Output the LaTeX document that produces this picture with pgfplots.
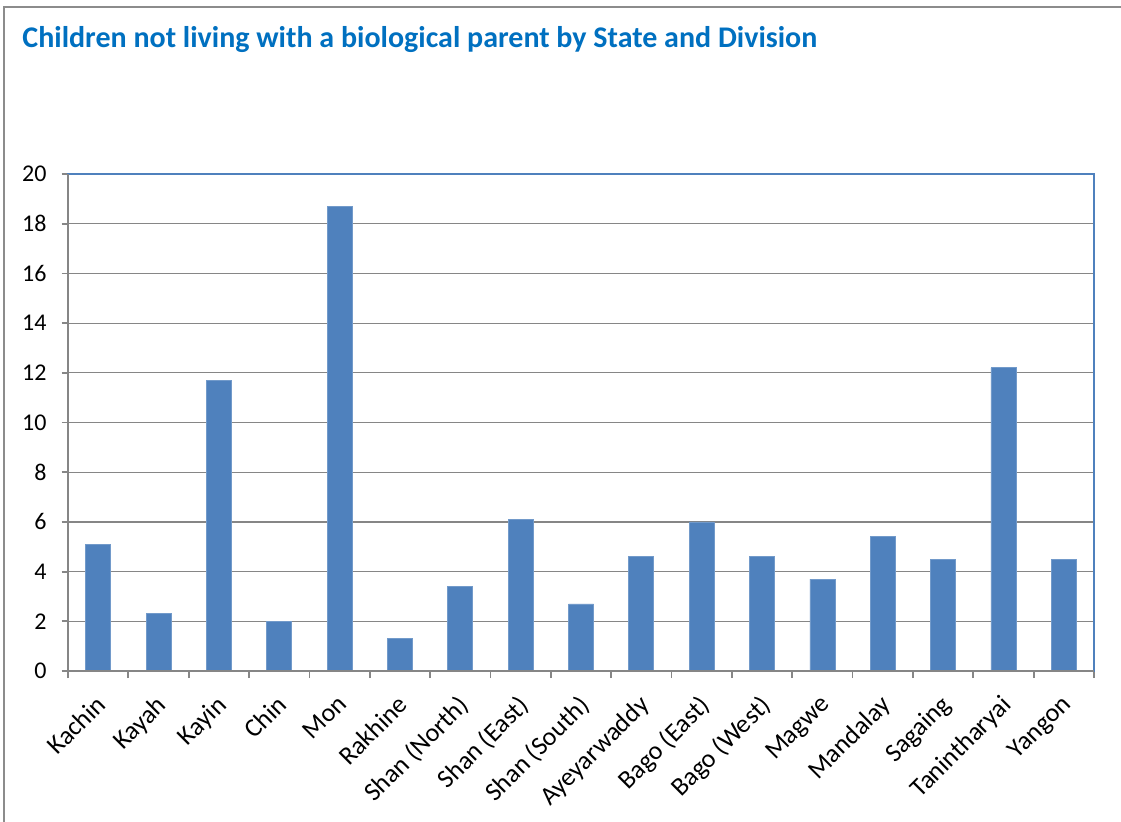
\documentclass[border=0pt]{standalone}
\usepackage{pgfplots}
\pgfplotsset{compat=1.18}
\usepackage{fontspec}
\setmainfont{Carlito}
\definecolor{barblue}{RGB}{79,129,189}
\definecolor{titleblue}{RGB}{0,112,192}
\definecolor{gridgray}{RGB}{134,134,134}
\definecolor{framegray}{RGB}{140,140,140}
\begin{document}
\begin{tikzpicture}
\begin{axis}[
  at={(34pt,75pt)}, anchor=south west,
  scale only axis, width=513pt, height=248.5pt,
  xmin=-0.5, xmax=16.5, ymin=0, ymax=20,
  ytick={0,2,...,20},
  xtick={0,...,16},
  xticklabels={Kachin,Kayah,Kayin,Chin,Mon,Rakhine,Shan (North),Shan (East),Shan (South),Ayeyarwaddy,Bago (East),Bago (West),Magwe,Mandalay,Sagaing,Tanintharyai,Yangon},
  minor xtick={-0.5,0.5,...,16.5},
  xtick pos=bottom, ytick pos=left,
  major x tick style={draw=none},
  minor x tick style={draw=gridgray, line width=0.9pt},
  y tick style={draw=gridgray, line width=0.9pt},
  tick align=outside,
  major tick length=3.2pt, minor tick length=3.5pt,
  ymajorgrids, major grid style={gridgray, line width=0.6pt},
  axis line style={barblue, line width=0.9pt},
  xticklabel style={rotate=45, anchor=north east, font=\fontsize{13}{15}\selectfont, inner sep=1pt, xshift=-5.9pt, yshift=-3.3pt},
  yticklabel style={font=\fontsize{12}{14}\selectfont, xshift=-4pt},
  /pgf/number format/assume math mode=true,
  ybar, bar width=12.5pt,
  after end axis/.code={
    \draw[gridgray, line width=0.9pt] (rel axis cs:0,1) -- (rel axis cs:0,0) -- (rel axis cs:1,0);
  },
]
\addplot[fill=barblue, draw=barblue!80!white, line width=0.4pt] coordinates {
(0,5.1) (1,2.3) (2,11.7) (3,2.0) (4,18.7) (5,1.3) (6,3.4) (7,6.1) (8,2.7) (9,4.6) (10,6.0) (11,4.6) (12,3.7) (13,5.4) (14,4.5) (15,12.2) (16,4.5)
};
\end{axis}
\draw[framegray, line width=1pt] (1.8pt,-2pt) -- (1.8pt,407.2pt) -- (565pt,407.2pt);
\node[anchor=base west, text=titleblue, font=\bfseries\fontsize{15}{18}\selectfont, inner sep=0pt] at (11pt,386.5pt) {Children not living with a biological parent by State and Division};
\pgfresetboundingbox
\useasboundingbox (0pt,0pt) rectangle (560.5pt,410.5pt);
\end{tikzpicture}
\end{document}
